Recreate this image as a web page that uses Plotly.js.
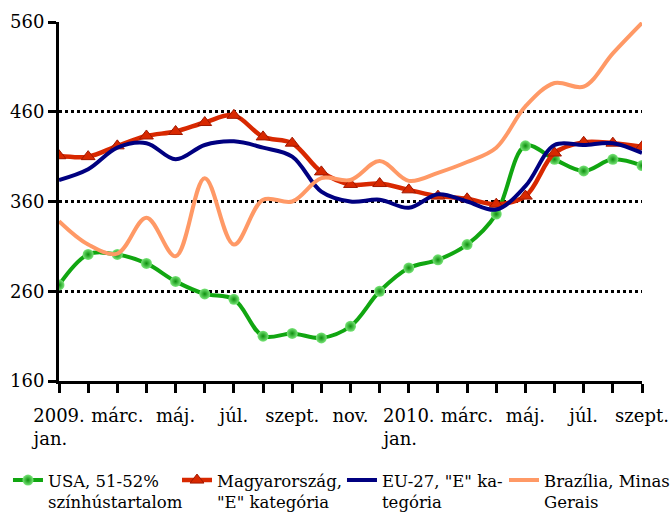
<!DOCTYPE html>
<html>
<head>
<meta charset="utf-8">
<script src="https://cdn.plot.ly/plotly-3.0.1.min.js"></script>
<style>html,body{margin:0;padding:0;background:#fff}#chart{width:671px;height:514px}</style>
</head>
<body>
<div id="chart"></div>
<script>
const months = ["2009. jan.","2009. febr.","2009. márc.","2009. ápr.","2009. máj.","2009. jún.","2009. júl.","2009. aug.","2009. szept.","2009. okt.","2009. nov.","2009. dec.",
  "2010. jan.","2010. febr.","2010. márc.","2010. ápr.","2010. máj.","2010. jún.","2010. júl.","2010. aug.","2010. szept."];
const tickLabels = ["2009.<br>jan.\u00a0\u00a0\u00a0","","márc.","","máj.","","júl.","","szept.","","nov.","",
  "2010.<br>jan.\u00a0\u00a0\u00a0","","márc.","","máj.","","júl.","","szept."];
const seriesNames = ["USA, 51-52%<br>színhústartalom","Magyarország,<br>\"E\" kategória","EU-27, \"E\" ka-<br>tegória","Brazília, Minas<br>Gerais"];
const usa = [267,301,301,291,271,257,251,210,213,208,221,260,286,295,312,346,422,407,394,407,400];
const hungary = [411,410,422,433,438,448,456,432,425,393,379,380,373,366,363,357,366,414,426,425,421];
const eu27 = [384,396,420,425,407,423,427,420,410,371,360,362,353,368,360,351,377,423,423,425,414];
const brazil = [338,312,302,342,299,386,312,362,360,386,384,405,383,392,404,420,466,492,488,525,559];

const data = [
  {x: months, y: usa, name: seriesNames[0], type: 'scatter', mode: 'lines+markers', legend: 'legend',
   line: {color: '#11a611', width: 4, shape: 'spline', smoothing: 1},
   marker: {symbol: 'circle', size: 11, color: '#7ae67a', gradient: {type: 'radial', color: '#0c8f0c'}, line: {width: 0}}},
  {x: months, y: hungary, name: seriesNames[1], type: 'scatter', mode: 'lines+markers', legend: 'legend2',
   line: {color: '#d82800', width: 4.5, shape: 'spline', smoothing: 1},
   marker: {symbol: 'triangle-up', size: 12, color: '#d82800', line: {color: '#a01800', width: 1}}},
  {x: months, y: eu27, name: seriesNames[2], type: 'scatter', mode: 'lines', legend: 'legend3',
   line: {color: '#000080', width: 4, shape: 'spline', smoothing: 1}},
  {x: months, y: brazil, name: seriesNames[3], type: 'scatter', mode: 'lines', legend: 'legend4',
   line: {color: '#ff9966', width: 4, shape: 'spline', smoothing: 1}}
];

const fam = 'DejaVu Serif';
const legendBase = (x) => ({orientation: 'h', x: x, xanchor: 'left', y: -0.228, yanchor: 'top', valign: 'top',
    font: {family: fam, size: 16.5, color: '#000'}, itemwidth: 30, bgcolor: 'rgba(0,0,0,0)'});
const layout = {
  width: 671, height: 514,
  margin: {l: 59, r: 29, t: 22, b: 133, autoexpand: false},
  paper_bgcolor: '#fff', plot_bgcolor: '#fff',
  font: {family: fam, size: 18, color: '#000'},
  showlegend: true,
  xaxis: {type: 'category', range: [0, 20], tickmode: 'array', tickvals: months, ticktext: tickLabels,
    showgrid: false, zeroline: false, showline: true, linecolor: '#000', linewidth: 3,
    ticks: 'outside', ticklen: 9, tickwidth: 3, tickcolor: '#000', tickangle: 0, ticklabelstandoff: 7,
    tickfont: {family: fam, size: 18, color: '#000'}, fixedrange: true, automargin: false},
  yaxis: {range: [160, 560], tickmode: 'array', tickvals: [160, 260, 360, 460, 560],
    showgrid: true, gridcolor: '#000', gridwidth: 3, griddash: 'dot', zeroline: false,
    showline: true, linecolor: '#000', linewidth: 3, ticks: 'outside', ticklen: 8, tickwidth: 3, tickcolor: '#000',
    tickfont: {family: fam, size: 18, color: '#000'}, fixedrange: true, automargin: false},
  legend: legendBase(-0.0875),
  legend2: legendBase(0.2024),
  legend3: legendBase(0.4854),
  legend4: legendBase(0.7633)
};
Plotly.newPlot('chart', data, layout, {displayModeBar: false, staticPlot: true});
</script>
</body>
</html>
